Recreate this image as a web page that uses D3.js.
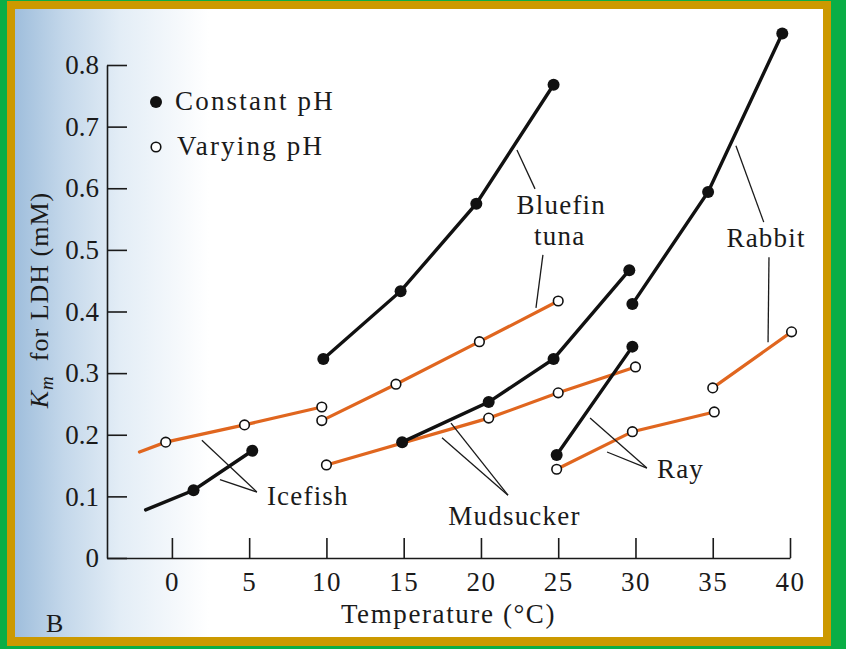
<!DOCTYPE html>
<html>
<head>
<meta charset="utf-8">
<script src="https://cdn.jsdelivr.net/npm/d3@7/dist/d3.min.js"></script>
<style>
  html, body { margin: 0; padding: 0; background: #0aae46; }
  svg { display: block; }
  text { font-family: 'Liberation Serif', 'Times New Roman', serif; fill: #1a1a1a; }
</style>
</head>
<body>
<svg id="chart" width="846" height="649"></svg>
<script>
// ---- Data (temperature °C, Km mM, marker flag) ----
const xTicks = [0, 5, 10, 15, 20, 25, 30, 35, 40];
const yTicks = [0, 0.1, 0.2, 0.3, 0.4, 0.5, 0.6, 0.7, 0.8];
const yTickLabels = ["0", "0.1", "0.2", "0.3", "0.4", "0.5", "0.6", "0.7", "0.8"];

const icefishConstant  = [[-1.7, 0.078, 0], [1.4, 0.110, 1], [5.2, 0.174, 1]];
const icefishVarying   = [[-2.1, 0.172, 0], [-0.4, 0.188, 1], [4.7, 0.216, 1], [9.7, 0.245, 1]];
const bluefinConstant  = [[9.8, 0.323, 1], [14.8, 0.433, 1], [19.7, 0.575, 1], [24.7, 0.768, 1]];
const bluefinVarying   = [[9.7, 0.223, 1], [14.5, 0.282, 1], [19.9, 0.351, 1], [25.0, 0.417, 1]];
const mudsuckerConstant = [[14.9, 0.188, 1], [20.5, 0.253, 1], [24.7, 0.323, 1], [29.6, 0.467, 1]];
const mudsuckerVarying  = [[10.0, 0.151, 1], [20.5, 0.227, 1], [25.0, 0.268, 1], [30.0, 0.310, 1]];
const rayConstant      = [[24.9, 0.167, 1], [29.8, 0.343, 1]];
const rayVarying       = [[24.9, 0.144, 1], [29.8, 0.205, 1], [35.1, 0.237, 1]];
const rabbitConstant   = [[29.8, 0.412, 1], [34.7, 0.594, 1], [39.5, 0.851, 1]];
const rabbitVarying    = [[35.0, 0.276, 1], [40.1, 0.367, 1]];

const constantSeries = [icefishConstant, bluefinConstant, mudsuckerConstant, rayConstant, rabbitConstant];
const varyingSeries  = [icefishVarying, bluefinVarying, mudsuckerVarying, rayVarying, rabbitVarying];

// species labels: [text, t, Km, anchor]
const speciesLabels = [
  ["Icefish", 6.15, 0.086, "start"],
  ["Bluefin", 25.2, 0.558, "middle"],
  ["tuna", 25.1, 0.508, "middle"],
  ["Rabbit", 38.45, 0.505, "middle"],
  ["Mudsucker", 22.17, 0.0535, "middle"],
  ["Ray", 31.39, 0.130, "start"]
];
// leader lines: [t1, Km1, t2, Km2]
const leaders = [
  [5.50, 0.107, 1.94, 0.191], [5.50, 0.107, 3.11, 0.127],
  [22.33, 0.662, 23.50, 0.599], [24.01, 0.492, 23.56, 0.406],
  [36.5, 0.669, 38.3, 0.545], [38.64, 0.488, 38.58, 0.350],
  [21.75, 0.102, 18.06, 0.219], [21.75, 0.102, 17.48, 0.195],
  [30.74, 0.146, 27.06, 0.227], [30.74, 0.146, 28.16, 0.172]
];

// ---- Drawing ----
const svg = d3.select("#chart");
const defs = svg.append("defs");
const grad = defs.append("linearGradient").attr("id", "paper").attr("x1", "0").attr("x2", "1").attr("y1", "0").attr("y2", "0");
grad.append("stop").attr("offset", "0%").attr("stop-color", "#9fbedc");
grad.append("stop").attr("offset", "6%").attr("stop-color", "#c3d7ea");
grad.append("stop").attr("offset", "13%").attr("stop-color", "#e3edf6");
grad.append("stop").attr("offset", "24%").attr("stop-color", "#ffffff");
grad.append("stop").attr("offset", "100%").attr("stop-color", "#ffffff");

svg.append("rect").attr("width", 846).attr("height", 649).attr("fill", "#0aae46");
svg.append("rect").attr("x", 7).attr("y", 1).attr("width", 824).attr("height", 645).attr("fill", "#cc9900");
svg.append("rect").attr("x", 15).attr("y", 9).attr("width", 808).attr("height", 628).attr("fill", "url(#paper)");

const x = d3.scaleLinear().domain([-4.2, 40]).range([107, 790]);
const y = d3.scaleLinear().domain([0, 0.8]).range([558, 65]);

const ink = "#1a1a1a";
const fontSize = 27;

// X axis
const xAxis = svg.append("g").attr("transform", `translate(0,${y(0)})`)
  .call(d3.axisBottom(x).tickValues(xTicks).tickFormat(d3.format("d"))
    .tickSizeInner(-20).tickSizeOuter(0).tickPadding(14));
// Y axis
const yAxis = svg.append("g").attr("transform", `translate(${x(-4.2)},0)`)
  .call(d3.axisLeft(y).tickValues(yTicks).tickFormat((d, i) => yTickLabels[i])
    .tickSizeInner(-20).tickSizeOuter(0).tickPadding(8));

[xAxis, yAxis].forEach(g => {
  g.select(".domain").attr("stroke", ink).attr("stroke-width", 1.6);
  g.selectAll(".tick line").attr("stroke", ink).attr("stroke-width", 1.6);
  g.selectAll(".tick text").attr("font-size", fontSize).attr("fill", ink)
    .style("font-family", "'Liberation Serif', 'Times New Roman', serif");
});
xAxis.selectAll(".tick text").attr("letter-spacing", 1.5);

// Lines
const line = d3.line().x(d => x(d[0])).y(d => y(d[1]));
svg.append("g").selectAll("path").data(varyingSeries).join("path")
  .attr("d", line).attr("fill", "none").attr("stroke", "#e0661f").attr("stroke-width", 3.2)
  .attr("stroke-linecap", "round");
svg.append("g").selectAll("path").data(constantSeries).join("path")
  .attr("d", line).attr("fill", "none").attr("stroke", "#111").attr("stroke-width", 3.4)
  .attr("stroke-linecap", "round");

// Markers
svg.append("g").selectAll("circle").data(varyingSeries.flat().filter(d => d[2]))
  .join("circle").attr("cx", d => x(d[0])).attr("cy", d => y(d[1])).attr("r", 4.8)
  .attr("fill", "#fff").attr("stroke", "#111").attr("stroke-width", 1.6);
svg.append("g").selectAll("circle").data(constantSeries.flat().filter(d => d[2]))
  .join("circle").attr("cx", d => x(d[0])).attr("cy", d => y(d[1])).attr("r", 6)
  .attr("fill", "#111");

// Leader lines
svg.append("g").selectAll("line").data(leaders).join("line")
  .attr("x1", d => x(d[0])).attr("y1", d => y(d[1]))
  .attr("x2", d => x(d[2])).attr("y2", d => y(d[3]))
  .attr("stroke", ink).attr("stroke-width", 1.3);

// Species labels
svg.append("g").selectAll("text").data(speciesLabels).join("text")
  .attr("x", d => x(d[1])).attr("y", d => y(d[2])).attr("text-anchor", d => d[3])
  .attr("font-size", fontSize).attr("letter-spacing", 1.2).text(d => d[0]);

// Legend
const legend = svg.append("g");
legend.append("circle").attr("cx", 156).attr("cy", 102).attr("r", 6).attr("fill", "#111");
legend.append("circle").attr("cx", 156).attr("cy", 147).attr("r", 4.8).attr("fill", "#fff")
  .attr("stroke", "#111").attr("stroke-width", 1.6);
legend.append("text").attr("x", 175).attr("y", 110).attr("font-size", fontSize).attr("letter-spacing", 2.2).text("Constant pH");
legend.append("text").attr("x", 177).attr("y", 155).attr("font-size", fontSize).attr("letter-spacing", 2.2).text("Varying pH");

// Axis titles
svg.append("text").attr("x", (x(-4.2) + x(40)) / 2).attr("y", 623).attr("text-anchor", "middle")
  .attr("font-size", fontSize).attr("letter-spacing", 1.6).text("Temperature (°C)");

const yt = svg.append("text").attr("transform", "translate(48,300) rotate(-90)")
  .attr("text-anchor", "middle").attr("font-size", 26).attr("letter-spacing", 1);
yt.append("tspan").attr("font-style", "italic").text("K");
yt.append("tspan").attr("font-style", "italic").attr("font-size", 19).attr("dy", 5).text("m");
yt.append("tspan").attr("dy", -5).text("\u2002for LDH (mM)");

svg.append("text").attr("x", 46).attr("y", 632).attr("font-size", 26).text("B");
</script>
</body>
</html>
